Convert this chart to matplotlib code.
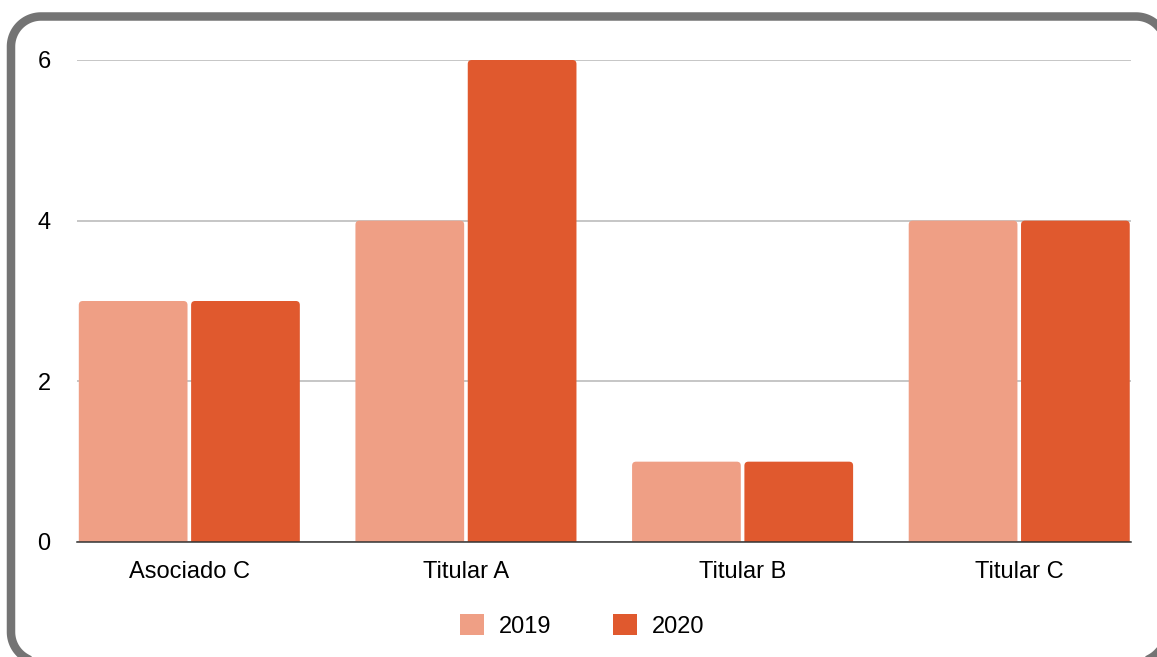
import matplotlib
matplotlib.use("Agg")
import numpy as np
import matplotlib.pyplot as plt
from matplotlib.patches import FancyBboxPatch, Patch
from matplotlib.lines import Line2D
from matplotlib.transforms import IdentityTransform

categories = ["Asociado C", "Titular A", "Titular B", "Titular C"]
series_names = ["2019", "2020"]
values_2019 = [3, 4, 1, 4]
values_2020 = [3, 6, 1, 4]
yticks = [0, 2, 4, 6]

colors = ["#EF9F85", "#E0592E"]

plt.rcParams["font.family"] = ["Liberation Sans", "DejaVu Sans"]
plt.rcParams["path.simplify"] = False
W, H, DPI = 1157, 657, 100
fig = plt.figure(figsize=(W / DPI, H / DPI), dpi=DPI)
fig.patch.set_facecolor("white")


def rounded_rect(x0, y0, x1, y1, rad, n=40):
    pts = []
    corners = [(x1 - rad, y1 - rad, 0, 90), (x0 + rad, y1 - rad, 90, 180),
               (x0 + rad, y0 + rad, 180, 270), (x1 - rad, y0 + rad, 270, 360)]
    for cx, cy, a0, a1 in corners:
        t = np.radians(np.linspace(a0, a1, n))
        pts.append(np.column_stack([cx + rad * np.cos(t), cy + rad * np.sin(t)]))
    pts = np.vstack(pts + [pts[0][:1]])
    return pts[:, 0], pts[:, 1]


# outer rounded frame (partly cut off on the right and bottom), in pixels
fx, fy = rounded_rect(11, -5, 1166, 640.5, 30)
frame = Line2D(fx, fy, transform=IdentityTransform(), color="#747474",
               linewidth=8.5 * 72 / DPI, solid_joinstyle="round")
fig.lines.append(frame)

ax = fig.add_axes([77 / W, 1 - 542 / H, (1131 - 77) / W, (542 - 60) / H])
ax.set_xlim(-0.405, 3.405)
ax.set_ylim(0, 6)

xw = 1054 / 3.81          # px per x unit
yh = 482 / 6              # px per y unit
r = 4 / xw
aspect = (4 / yh) / r
bw = 0.393
offsets = [-0.2 - 0.002, 0.2 + 0.004]
for vals, off, col in zip([values_2019, values_2020], offsets, colors):
    for i, v in enumerate(vals):
        x0 = i + off - bw / 2
        p = FancyBboxPatch((x0, -0.2), bw, v + 0.2,
                           boxstyle=f"round,pad=0,rounding_size={r}",
                           mutation_aspect=aspect,
                           facecolor=col, edgecolor="none", zorder=3)
        ax.add_patch(p)

ax.set_yticks(yticks)
ax.set_yticklabels([str(t) for t in yticks])
ax.set_xticks(range(len(categories)))
ax.set_xticklabels(categories)
ax.tick_params(axis="both", length=0, labelsize=17, colors="#000000")
ax.tick_params(axis="y", pad=19)
ax.tick_params(axis="x", pad=14)
ax.grid(axis="y", color="#b7b7b7", linewidth=1.1, zorder=0)
ax.set_axisbelow(True)
for s in ["top", "right", "left"]:
    ax.spines[s].set_visible(False)
ax.spines["bottom"].set_color("#333333")
ax.spines["bottom"].set_linewidth(1.1)
ax.spines["bottom"].set_zorder(4)

handles = [Patch(facecolor=c, edgecolor="none") for c in colors]
fig.legend(handles, series_names, loc="center", bbox_to_anchor=(582.5 / W, 1 - 626 / H),
           ncol=2, frameon=False, fontsize=17, handlelength=1.0, handleheight=1.0,
           handletextpad=0.65, columnspacing=2.6)

fig.savefig("out.png", dpi=DPI)
